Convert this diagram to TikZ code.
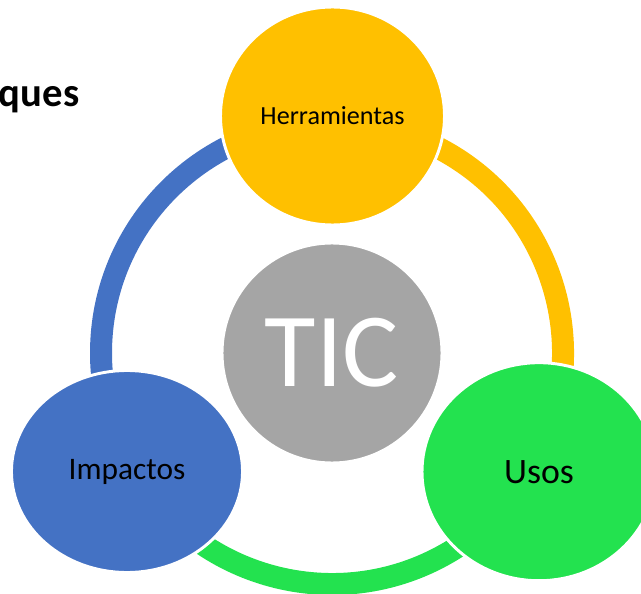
\documentclass[tikz,border=0pt]{standalone}
\usepackage{fontspec}
\setmainfont{Carlito}
\usetikzlibrary{shapes.geometric}
\definecolor{herrcolor}{HTML}{FFC000}
\definecolor{impcolor}{HTML}{4472C4}
\definecolor{usoscolor}{HTML}{23E24F}
\definecolor{ticcolor}{HTML}{A5A5A5}
\begin{document}
\begin{tikzpicture}[x=0.75pt,y=0.75pt,
  ringarc/.style={line width=16.5pt},
  blob/.style={ellipse,draw=white,line width=2.2pt,inner sep=0pt}]
\useasboundingbox (0,0) rectangle (641,593);

\node [anchor=base east,font=\bfseries\fontsize{30.5}{36}\selectfont] (title) at (84,486) {ques};

\coordinate (ring) at (332,240);
\draw [ringarc,impcolor] ([shift={(90:231)}]ring) arc[start angle=90,end angle=210,radius=231];
\draw [ringarc,usoscolor] ([shift={(210:231)}]ring) arc[start angle=210,end angle=330,radius=231];
\draw [ringarc,herrcolor] ([shift={(330:231)}]ring) arc[start angle=330,end angle=450,radius=231];

\node [blob,fill=ticcolor,minimum width=165pt,minimum height=165pt,text=white,
  font=\fontsize{79}{90}\selectfont] (tic) at (ring) {\raisebox{-2pt}{TIC}};
\node [blob,fill=herrcolor,minimum width=168pt,minimum height=163.5pt,
  font=\fontsize{19.6}{23}\selectfont] (herr) at (332.5,477) {Herramientas};
\node [blob,fill=impcolor,minimum width=173.3pt,minimum height=151.5pt,
  font=\fontsize{23.5}{28}\selectfont] (imp) at (127,121.5) {Impactos};
\node [blob,fill=usoscolor,minimum width=175.5pt,minimum height=163.5pt,
  font=\fontsize{26.8}{32}\selectfont] (usos) at (539,121.3) {Usos};
\end{tikzpicture}
\end{document}
